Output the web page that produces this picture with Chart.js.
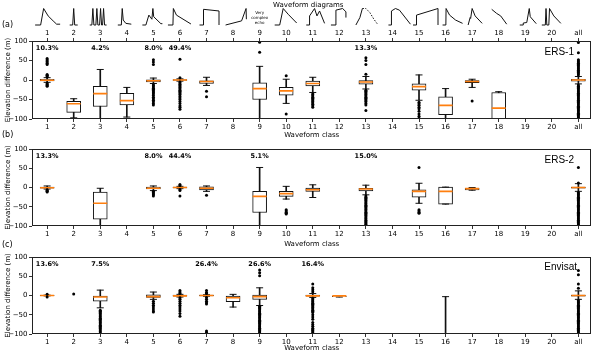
<!DOCTYPE html>
<html><head><meta charset="utf-8">
<script src="https://cdn.jsdelivr.net/npm/chart.js@4.4.1/dist/chart.umd.min.js"></script>
<style>
html,body{margin:0;padding:0;background:#fff;}
#wrap{position:relative;width:600px;height:354px;overflow:hidden;background:#fff;}
canvas{position:absolute;left:0;}
</style></head><body>
<div id="wrap">
<canvas id="ca" width="600" height="140" style="top:0px"></canvas>
<canvas id="cb" width="600" height="114" style="top:138px"></canvas>
<canvas id="cc" width="600" height="106" style="top:248px"></canvas>
</div>
<script>
// ---------- categories / ticks ----------
const classes = [1,2,3,4,5,6,7,8,9,10,11,12,13,14,15,16,17,18,19,20,21];
const tickLabels = ['1','2','3','4','5','6','7','8','9','10','11','12','13','14','15','16','17','18','19','20','all'];
const yTicks = [-100,-50,0,50,100];

// ---------- ERS-1 ----------
const ers1Wlo = [-6,-97,-110,-95,-9,-3,-14,null,-110,-60,-32,null,-23,null,-52,-99,-19,-100,null,null,-10];
const ers1Q1  = [-2.5,-83,-68,-64,-5,-1,-9,null,-50,-39,-15,null,-11,null,-26,-89,-7,-100,null,null,-3];
const ers1Med = [-0.5,-61,-35,-53,-2,0,-4,null,-22,-28,-9,null,-5,null,-17,-65,-4,-72,null,null,0];
const ers1Q3  = [1.5,-55,-16,-34,0.5,1,-2,null,-7,-19,-3,null,0,null,-10,-43,0,-32,null,null,2];
const ers1Whi = [6,-48,27,-19,5,3,7,null,35,2,7,null,9,null,13,-22,2,-30,null,null,9];
const ers1Fliers = [
  [55,52,49,46,43,40,14,12,10,8,-8,-10,-12,-14,-16],
  [],[],[],
  [52,46,40,-12,-15,-18,-21,-24,-27,-30,-33,-36,-40,-44,-48,-52,-56,-60,-64],
  [53,6,-5,-8,-11,-14,-17,-20,-23,-26,-29,-32,-35,-38,-42,-46,-50,-55,-60,-66,-70,-75],
  [-29,-43],
  [],
  [100,97,71],
  [11,-87],
  [-35,-38,-41,-44,-47,-50,-53,-56,-59,-62,-66,-70],
  [],
  [57,50,40,15,-26,-29,-32,-35,-38,-41,-44,-47,-50,-53,-56,-60,-64,-78],
  [],
  [-57,-61,-65,-70,-74,-80,-87,-93,-98],
  [],
  [-54],
  [],[],[],
  [96,70,52,49,46,43,40,37,34,31,28,25,22,19,16,13,-13,-16,-19,-22,-25,-28,-31,-34,-37,-40,-43,-46,-49,-52,-55,-58,-61,-64,-67,-70,-73,-76,-79,-82,-85,-88,-91,-94,-97,-100]
];
const ers1Pct = ['10.3%',null,'4.2%',null,'8.0%','49.4%',null,null,null,null,null,null,'13.3%',null,null,null,null,null,null,null,null];

// ---------- ERS-2 ----------
const ers2Wlo = [-4,null,-110,null,-8,-3,-10,null,-110,-30,-26,null,-19,null,-41,-43,-7,null,null,null,-10];
const ers2Q1  = [-1.5,null,-82,null,-4,-1,-6,null,-65,-23,-10,null,-9,null,-25,-43,-6,null,null,null,-2];
const ers2Med = [-0.5,null,-41,null,-2,0,-2,null,-23,-16,-6,null,-4,null,-10,-10,-3,null,null,null,0];
const ers2Q3  = [1,null,-12,null,1,1,2,null,-10,-10,0,null,-2,null,-6,1,-2,null,null,null,1];
const ers2Whi = [4,null,-2,null,4,3,4,null,52,3,7,null,6,null,11,1,0,null,null,null,10];
const ers2Fliers = [
  [-6,-8,-10,-12],
  [],[],[],
  [-10,-13,-16,-19,-22],
  [8,5,-5,-8,-22],
  [-20],
  [],[],
  [-58,-61,-64,-67,-69],
  [],[],
  [-22,-25,-28,-31,-34,-37,-40,-43,-46,-49,-52,-55,-58,-61,-64,-67,-70,-73,-76,-79,-82,-85,-88,-91,-94,-96],
  [],
  [52,-58,-61,-64,-67],
  [],[],[],[],[],
  [52,12,-13,-16,-19,-22,-25,-28,-31,-34,-37,-40,-43,-46,-49,-52,-55,-58,-61,-64,-67,-70,-73,-76,-79,-82,-85,-88,-91,-94,-97,-100]
];
const ers2Pct = ['13.3%',null,null,null,'8.0%','44.4%',null,null,'5.1%',null,null,null,'15.0%',null,null,null,null,null,null,null,null];

// ---------- Envisat ----------
const envWlo = [-1,null,-32,null,-10,-4,-2,-30,-26,null,-5,-4,null,null,null,-110,null,null,null,null,-10];
const envQ1  = [-0.5,null,-15,null,-5,-1.5,-1,-16,-10,null,-2,-3,null,null,null,-160,null,null,null,null,-2];
const envMed = [0,null,-4,null,-3,-1,0,-6,-3,null,-1,-1,null,null,null,-150,null,null,null,null,0];
const envQ3  = [0.5,null,0,null,2,1,1,0,1,null,1,0,null,null,null,-140,null,null,null,null,1];
const envWhi = [1,null,14,null,9,3,2,3,20,null,5,0,null,null,null,-3,null,null,null,null,12];
const envFliers = [
  [3,-4],
  [4],
  [-38,-41,-44,-47,-50,-53,-56,-59,-62,-65,-68,-71,-74,-77,-80,-83,-86,-89,-92,-95,-98,-100],
  [],
  [-15,-20,-25,-30,-35,-40,-43],
  [13,9,6,-6,-10,-15,-20,-25,-30,-35,-40,-47,-54],
  [13,8,5,-5,-10,-15,-19,-22,-92,-96],
  [],
  [66,59,51,-28,-31,-34,-37,-40,-43,-46,-49,-52,-55,-58,-61,-64,-67,-70,-73,-76,-79,-82,-85,-88,-91,-94,-97,-100],
  [],
  [30,20,15,10,-8,-11,-14,-17,-20,-23,-26,-29,-32,-35,-38,-41,-44,-50,-56,-62,-70,-75,-80,-85,-88,-91,-94,-97,-100],
  [],[],[],[],[],[],[],[],[],
  [65,54,30,19,-13,-16,-19,-22,-25,-28,-31,-34,-37,-40,-43,-46,-49,-52,-55,-58,-61,-64,-67,-70,-73,-76,-79,-82,-85,-88,-91,-94,-97,-100]
];
const envPct = ['13.6%',null,'7.5%',null,null,null,'26.4%',null,'26.6%',null,'16.4%',null,null,null,null,null,null,null,null,null,null];

// ---------- waveform diagram glyphs (offset px from class centre, fraction of glyph height) ----------
const waveIcons = {
  1: [[-12,0],[-6.5,0],[-3.5,1],[1,0.55],[6,0.25],[9.5,0.05],[13,0.05]],
  2: [[-4,0],[-1,0],[0,1],[1,0],[4,0]],
  3: [[-10.5,0],[-8.4,0],[-7.4,1],[-6.4,0],[-4.4,0],[-3.4,1],[-2.4,0],[-0.7,0],[0.3,1],[1.3,0],[2.3,0],[3.3,1],[4.3,0],[6.3,0]],
  4: [[-9,0],[-5.5,0],[-4.6,1],[-3.6,0.3],[-1,0.1],[4.5,0.05]],
  5: [[-11,0],[-7.5,0],[-4.5,0.6],[-1.5,0.35],[-0.5,1],[0.3,0.5],[7.5,0.08],[9,0.08]],
  6: [[-12,0],[-7,0],[-6.6,1],[-3.5,0.6],[11,0.06]],
  7: [[-7,0],[-3,0],[-3,0.95],[12.5,0.85],[12.5,0]],
  8: [[-7.5,0],[8.5,0.25],[13,1],[13.3,0.35]],
  10: [[-11.5,0],[-6.5,0],[-3,1],[2,0.65],[10.5,0.12]],
  11: [[-6.5,0],[-3.2,0],[-3.2,0.55],[1.8,1],[4.2,0.55],[6.8,0.85],[11.8,0.1]],
  12: [[-8.4,0],[-3.4,0],[-3.4,0.9],[3.3,1],[6.6,0.8],[6.6,0.45]],
  13: [[-10,0],[-6,0.45],[-3.5,1]],
  14: [[-4,0],[-1,0],[-1,0.85],[3,1],[7,0.9],[18,0.05]],
  15: [[-6,0],[-2.5,0],[-2.5,0.6],[19,1],[19,0]],
  16: [[-3,0],[0.3,0],[0.5,1],[4,0.6],[10,0.3],[17,0.1]],
  17: [[-4,0],[-2,0.45],[-1.5,0.4],[0,1],[3,0.55],[10,0.1]],
  18: [[-7,0.95],[-2,0.7],[2,0.55],[8,0.05]],
  19: [[-5.5,0],[-2,0],[-2,0.12],[1.5,0.15],[4,1],[5,0.5],[11,0.08]],
  20: [[-10,0],[-6.5,0],[-5.8,1],[-5,0],[-3,0],[-2.3,1],[2,0.55],[9,0.1]]
};
const waveDashed = {13: [[-3.5,1],[0,1],[4,0.75],[8,0.35],[12,0.02]]};
const wave9Text = ['Very','complex','echo'];

// ---------- build ----------
const XMIN = 0.43, XMAX = 21.49;
const FONT = '"DejaVu Sans", sans-serif';
Chart.defaults.font.family = FONT;
Chart.defaults.color = '#000';

function buildDatasets(wlo,q1,med,q3,whi,fliers){
  const stems=[], boxes=[], meds=[], caps=[], pts=[];
  classes.forEach((c,i)=>{
    if (q1[i]!==null){
      stems.push({x:c,y:[wlo[i],whi[i]]});
      boxes.push({x:c,y:[q1[i],q3[i]]});
      meds.push({x:c,y:med[i]});
      caps.push({x:c,y:wlo[i]}); caps.push({x:c,y:whi[i]});
    }
    fliers[i].forEach(v=>pts.push({x:c,y:v}));
  });
  return [
    {type:'bar',data:stems,grouped:false,barThickness:1,backgroundColor:'#111',borderWidth:0,order:5,clip:0},
    {type:'bar',data:boxes,grouped:false,barThickness:14,backgroundColor:'#fff',borderColor:'#111',borderWidth:1,borderSkipped:false,order:4,clip:0},
    {type:'scatter',data:caps,pointStyle:'line',pointRadius:3.5,borderColor:'#111',borderWidth:1,order:3,clip:0},
    {type:'scatter',data:meds,pointStyle:'line',pointRadius:7,borderColor:'#ff7f0e',borderWidth:1.6,order:2,clip:0},
    {type:'scatter',data:pts,pointStyle:'circle',pointRadius:1.5,backgroundColor:'#000',borderWidth:0,order:1,clip:0}
  ];
}

function xAxis(pos, h, withTitle, titlePad){
  return {
    type:'linear', position:pos, min:XMIN, max:XMAX, offset:false,
    afterBuildTicks: s => { s.ticks = classes.map(v=>({value:v})); },
    afterFit: s => { s.height = h; },
    ticks:{ callback:(v)=>tickLabels[v-1], font:{size:7}, padding:1, maxRotation:0, autoSkip:false, color:'#000' },
    grid:{ drawOnChartArea:false, drawTicks:true, tickLength:3, color:'#333', offset:false },
    border:{ display:false },
    title:{ display:withTitle, text:'Waveform class', font:{size:7}, color:'#000', padding:{top:0,bottom:titlePad} }
  };
}
function yAxis(){
  return {
    type:'linear', min:-100, max:100,
    afterBuildTicks: s => { s.ticks = yTicks.map(v=>({value:v})); },
    afterFit: s => { s.width = 32; },
    ticks:{ callback:(v)=> v<0 ? '\u2212'+Math.abs(v) : String(v), font:{size:7}, padding:1.5, color:'#000' },
    grid:{ drawOnChartArea:false, drawTicks:true, tickLength:3, color:'#333' },
    border:{ display:false },
    title:{ display:true, text:'Elevation difference (m)', font:{size:7}, color:'#000', padding:{top:4,bottom:0} }
  };
}

const decoPlugin = {
  id:'deco',
  afterDraw(chart, args, o){
    const {ctx, chartArea:a} = chart;
    const x = chart.scales.x;
    ctx.save();
    ctx.strokeStyle = '#222'; ctx.lineWidth = 1;
    ctx.strokeRect(Math.round(a.left)+0.5, Math.round(a.top)+0.5, Math.round(a.right-a.left)-1, Math.round(a.bottom-a.top)-1);
    ctx.fillStyle = '#000';
    ctx.font = 'bold 6.5px ' + FONT;
    ctx.textAlign = 'center'; ctx.textBaseline = 'middle';
    o.pct.forEach((t,i)=>{ if (t) ctx.fillText(t, x.getPixelForValue(classes[i]), a.top + 7.5); });
    ctx.font = '10px "Liberation Sans", Arial, sans-serif';
    ctx.textAlign = 'right';
    ctx.fillText(o.name, o.nameX, a.top + o.nameDy);
    (o.extra||[]).forEach(e=>{
      ctx.font = e.font; ctx.textAlign = e.align; ctx.fillText(e.t, e.x, e.y);
    });
    if (o.icons){
      const base = 25, H = 16.5;
      ctx.strokeStyle = '#111'; ctx.lineWidth = 1; ctx.lineJoin = 'round';
      Object.keys(waveIcons).forEach(k=>{
        const cx = x.getPixelForValue(Number(k));
        ctx.beginPath();
        waveIcons[k].forEach((q,j)=>{ const px = cx+q[0], py = base - q[1]*H; j ? ctx.lineTo(px,py) : ctx.moveTo(px,py); });
        ctx.stroke();
      });
      Object.keys(waveDashed).forEach(k=>{
        const cx = x.getPixelForValue(Number(k));
        ctx.setLineDash([1.5,1.5]);
        ctx.beginPath();
        waveDashed[k].forEach((q,j)=>{ const px = cx+q[0], py = base - q[1]*H; j ? ctx.lineTo(px,py) : ctx.moveTo(px,py); });
        ctx.stroke();
        ctx.setLineDash([]);
      });
      const c9 = x.getPixelForValue(9);
      ctx.font = '4px ' + FONT; ctx.textAlign = 'center';
      wave9Text.forEach((t,j)=>ctx.fillText(t, c9, 13 + j*5));
      ctx.font = '7px ' + FONT; ctx.textAlign = 'left';
      ctx.fillText('Waveform diagrams', 273, 5);
    }
    ctx.restore();
  }
};

function makeChart(id, ds, scales, padTop, decoOpts){
  return new Chart(document.getElementById(id), {
    type:'bar',
    data:{ datasets: ds },
    options:{
      responsive:false, animation:false, events:[],
      layout:{ padding:{ left:0, right:1, top:padTop, bottom:0 } },
      scales: scales,
      plugins:{ legend:{display:false}, tooltip:{enabled:false}, deco: decoOpts }
    },
    plugins:[decoPlugin]
  });
}

makeChart('ca',
  buildDatasets(ers1Wlo,ers1Q1,ers1Med,ers1Q3,ers1Whi,ers1Fliers),
  { x: xAxis('bottom',21,true,0.8), x2: xAxis('top',41,false,0), y: yAxis() },
  0,
  { pct: ers1Pct, name:'ERS-1', nameX:574, nameDy:11, icons:true,
    extra:[ {t:'(a)',x:2,y:25,font:'8px '+FONT,align:'left'}, {t:'(b)',x:2,y:135,font:'8px '+FONT,align:'left'} ] });

makeChart('cb',
  buildDatasets(ers2Wlo,ers2Q1,ers2Med,ers2Q3,ers2Whi,ers2Fliers),
  { x: xAxis('bottom',26,true,3.8), y: yAxis() },
  11,
  { pct: ers2Pct, name:'ERS-2', nameX:574, nameDy:11,
    extra:[ {t:'(c)',x:2,y:107,font:'8px '+FONT,align:'left'} ] });

makeChart('cc',
  buildDatasets(envWlo,envQ1,envMed,envQ3,envWhi,envFliers),
  { x: xAxis('bottom',20,true,1.8), y: yAxis() },
  9,
  { pct: envPct, name:'Envisat', nameX:577, nameDy:10 });
</script>
</body></html>
